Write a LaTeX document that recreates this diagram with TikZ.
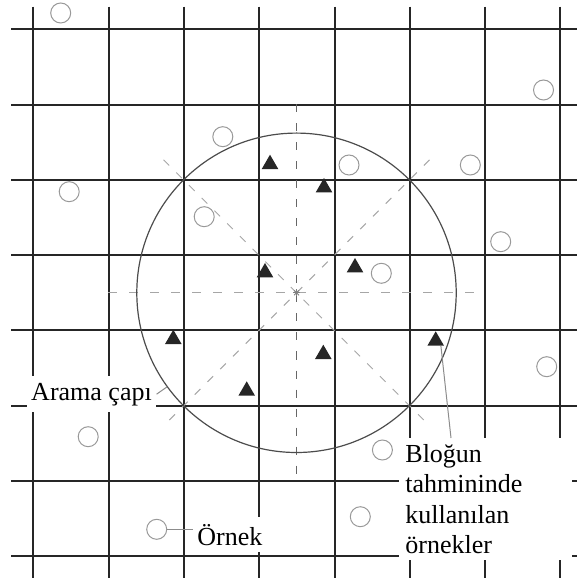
\documentclass[tikz,border=0pt]{standalone}
\usepackage{fontspec}
\setmainfont{Liberation Serif}
\usetikzlibrary{shapes.geometric}
\tikzset{
  gridline/.style={line width=1pt,black!85},
  guide/.style={black!35,line width=0.5pt,dash pattern=on 4.5pt off 6pt},
  search/.style={circle,draw=black!70,line width=0.6pt,minimum size=159.7pt,inner sep=0pt},
  sample/.style={circle,draw=black!40,line width=0.5pt,minimum size=10pt,inner sep=0pt},
  used/.style={regular polygon,regular polygon sides=3,fill=black!85,minimum size=9.6pt,inner sep=0pt},
  lead/.style={black!45,line width=0.5pt},
  lbl/.style={fill=white,font=\fontsize{13}{15.25}\selectfont,inner xsep=2.2pt,inner ysep=3.3pt}
}

\begin{document}
\begin{tikzpicture}[x=0.5pt,y=-0.5pt]
\useasboundingbox (0,0) rectangle (577,581);
\foreach \i in {0,...,7} {
  \draw[gridline] ({33.3+75.3*\i},6.7) -- ({33.3+75.3*\i},578.3);
  \draw[gridline] (11,{29.3+75.3*\i}) -- (577,{29.3+75.3*\i});
}
\coordinate (ctr) at (296.5,292.8);
\draw[guide] (ctr) ++(-188.3,0) -- ++(376.6,0);
\draw[guide,black!60,dash pattern=on 4pt off 5.5pt] (ctr) ++(0,-188.3) -- ++(0,376.6);
\draw[guide,dash pattern=on 4pt off 5pt] (ctr) ++(-133,-133) -- ++(266,266);
\draw[guide,dash pattern=on 4pt off 5pt] (ctr) ++(133,-133) -- ++(-266,266);
\foreach \a in {0,45,90,135}
  \draw[black!50,line width=0.4pt] (ctr) ++(\a:3.5) -- ++(\a+180:7);
\node[search] (srch) at (ctr) {};
\foreach \x/\y [count=\n] in {60.7/13, 543.5/90, 222.8/136.7, 349/165, 470.3/165,
    69.2/191.7, 204.2/216.7, 500.7/241.7, 381.3/273.3, 546.7/366.7,
    88.2/436.7, 382.4/450, 360.3/516.7, 156.7/529.3}
  \node[sample] (s\n) at (\x,\y) {};
\foreach \x/\y [count=\n] in {270/164.3, 324/187.6, 265/272.6, 355/267.6,
    173.3/339.3, 323.3/354.3, 246.7/390.9, 435.7/340.9}
  \node[used] (t\n) at (\x,\y) {};
\node[lbl,anchor=base] (arama) at (91.5,400) {Arama çapı};
\node[lbl,anchor=base west] (ornek) at (192.6,545) {Örnek};
\node[lbl,anchor=north west,text width=80.5pt,align=left,inner xsep=3pt,inner ysep=3pt]
  (blk) at (399,438) {Bloğun\\tahmininde\\kullanılan\\örnekler};
\draw[lead] (arama.east) -- (srch.216.6);
\draw[lead] (s14.east) -- (s14.east -| ornek.west);
\draw[lead] (t8.south east) -- ([xshift=26pt]blk.north west);
\end{tikzpicture}
\end{document}
